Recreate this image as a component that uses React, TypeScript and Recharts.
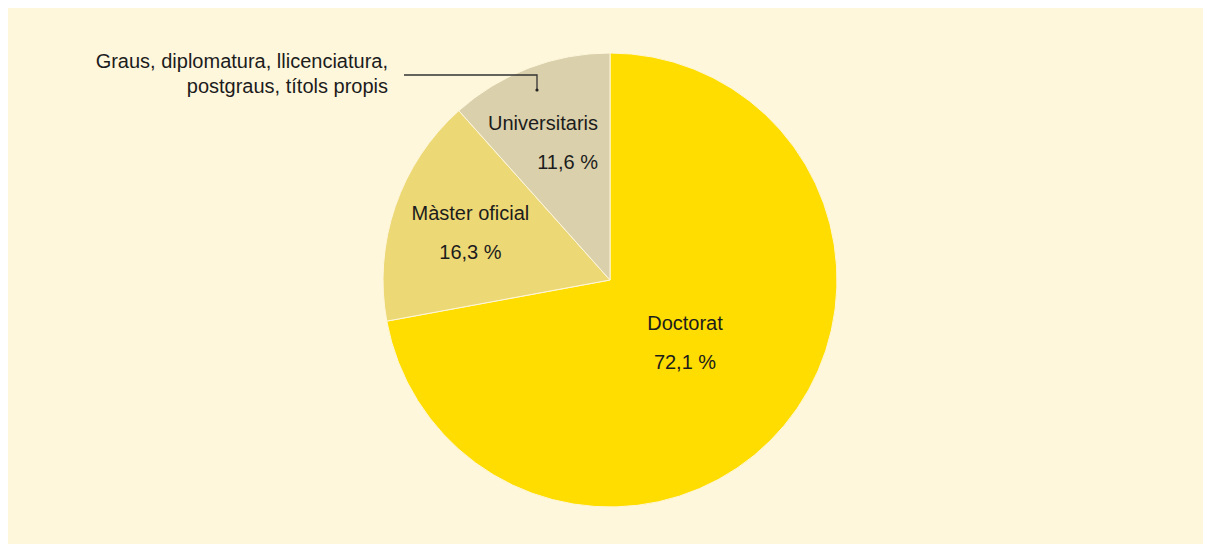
import { PieChart, Pie, Cell } from "recharts";

const CATEGORIES = ["Doctorat", "Màster oficial", "Universitaris"];
const SHARES = [72.1, 16.3, 11.6];
const COLORS = ["#FFDD00", "#EDD876", "#DAD0AB"];
const NOTE_LINES = ["Graus, diplomatura, llicenciatura,", "postgraus, títols propis"];

const BG = "#FFF7DC";
const INK = "#1c1c1c";
const FONT = "'Liberation Sans', Arial, Helvetica, sans-serif";

const data = CATEGORIES.map((name, i) => ({ name, value: SHARES[i] }));

const fmt = (v: number) => `${v.toFixed(1).replace(".", ",")} %`;

const RADIAN = Math.PI / 180;

function SliceLabel(props: any) {
  const { cx, cy, midAngle, outerRadius, percent, value, name, index } = props;
  // the big slice gets its label nearer the centre
  const r = outerRadius * (percent > 0.5 ? 0.43 : 0.65);
  let x = cx + r * Math.cos(-midAngle * RADIAN);
  const y = cy + r * Math.sin(-midAngle * RADIAN) - 19;
  let anchor: "middle" | "end" = "middle";
  if (x < cx && cx - x < 70) {
    anchor = "end";
    x = cx - 12;
  }
  const isLast = index === CATEGORIES.length - 1;
  return (
    <g>
      <text x={x} y={y} textAnchor={anchor} fill={INK} fontSize={20} fontFamily={FONT} dominantBaseline="central">
        {name}
      </text>
      <text x={x} y={y + 39} textAnchor={anchor} fill={INK} fontSize={20} fontFamily={FONT} dominantBaseline="central">
        {fmt(value)}
      </text>
      {isLast && (
        <g>
          <polyline
            points={`${cx - 206},${cy - 205} ${cx - 73},${cy - 205} ${cx - 73},${cy - 190}`}
            fill="none"
            stroke="#333"
            strokeWidth={1.3}
          />
          <circle cx={cx - 73} cy={cy - 190} r={1.6} fill="#222" />
          {NOTE_LINES.map((line, i) => (
            <text
              key={line}
              x={cx - 222}
              y={cy - 219 + i * 25}
              textAnchor="end"
              fill={INK}
              fontSize={20}
              fontFamily={FONT}
              dominantBaseline="central"
            >
              {line}
            </text>
          ))}
        </g>
      )}
    </g>
  );
}

export default function App() {
  return (
    <div style={{ marginLeft: -3, width: 1210, height: 536, background: BG }}>
      <PieChart width={1210} height={536}>
        <Pie
          data={data}
          dataKey="value"
          nameKey="name"
          cx={600}
          cy={267}
          outerRadius={227}
          startAngle={90}
          endAngle={-270}
          stroke={BG}
          strokeWidth={1}
          label={SliceLabel}
          labelLine={false}
          isAnimationActive={false}
        >
          {data.map((d, i) => (
            <Cell key={d.name} fill={COLORS[i]} />
          ))}
        </Pie>
      </PieChart>
    </div>
  );
}
